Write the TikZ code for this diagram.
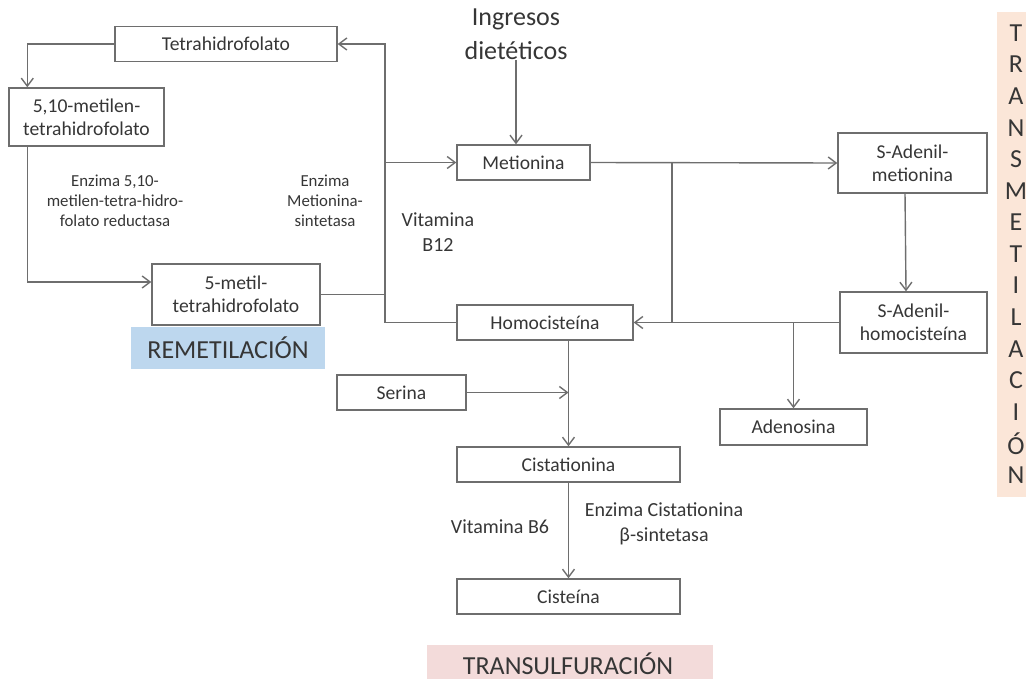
\documentclass[tikz,border=0pt]{standalone}
\usepackage{fontspec}
\setmainfont{Carlito}
\usepackage{tikz}
\usetikzlibrary{arrows.meta}
\definecolor{linea}{HTML}{6E6E6E}
\definecolor{texto}{HTML}{363636}
\definecolor{azulremet}{HTML}{BDD7EE}
\definecolor{rosatrans}{HTML}{F3DBDA}
\definecolor{durazno}{HTML}{FBE6D8}

\begin{document}
\begin{tikzpicture}[x=0.5pt, y=-0.5pt]
\tikzstyle{caja}=[rectangle, draw=linea, line width=0.7pt, inner sep=0pt, align=center, text=texto, font=\fontsize{9.8}{11.6}\selectfont]
\tikzstyle{etiqueta}=[inner sep=0pt, align=center, text=texto, font=\fontsize{10}{12.5}\selectfont]
\tikzstyle{enzima}=[inner sep=0pt, align=center, text=texto, font=\fontsize{8.4}{10}\selectfont]
\tikzstyle{titulo}=[inner sep=0pt, text=texto, font=\fontsize{13}{15}\selectfont]
\tikzstyle{flecha}=[draw=linea, line width=0.7pt, -{Straight Barb[length=4pt, width=6pt]}]
\tikzstyle{linea}=[draw=linea, line width=0.7pt]
\useasboundingbox (0,0) rectangle (1026,679);

% fondos de las rutas
\fill[azulremet] (131,327) rectangle (325,369);
\fill[rosatrans] (427,645) rectangle (713,679);
\fill[durazno] (997,12) rectangle (1026,497);

\node[caja, minimum width=111pt, minimum height=17.5pt] (THF) at (226,44) {Tetrahidrofolato};
\node[caja, minimum width=77.5pt, minimum height=29pt] (MTHF) at (86.5,117) {5,10-metilen-\\tetrahidrofolato};
\node[caja, minimum width=84pt, minimum height=30.5pt] (metil) at (236,294.5) {5-metil-\\tetrahidrofolato};
\node[caja, minimum width=66.5pt, minimum height=17.5pt] (met) at (523.5,162.5) {Metionina};
\node[caja, minimum width=74.5pt, minimum height=30pt] (sam) at (912.5,163) {S-Adenil-\\metionina};
\node[caja, minimum width=73.5pt, minimum height=30.5pt] (sah) at (913.5,322.5) {S-Adenil-\\homocisteína};
\node[caja, minimum width=88pt, minimum height=17.5pt] (hcy) at (545,322.5) {Homocisteína};
\node[caja, minimum width=64.5pt, minimum height=17.5pt] (ser) at (401.5,392.5) {Serina};
\node[caja, minimum width=111.5pt, minimum height=17.5pt] (cis) at (568.5,464.5) {Cistationina};
\node[caja, minimum width=111.5pt, minimum height=17.5pt] (cys) at (568.5,596.5) {Cisteína};
\node[caja, minimum width=73.5pt, minimum height=18pt] (ado) at (793.5,427) {Adenosina};

\node[titulo, align=center, font=\fontsize{13}{17}\selectfont] (ingresos) at (516,34) {Ingresos\\dietéticos};
\node[enzima] (enzreduc) at (115,201) {Enzima 5,10-\\metilen-tetra-hidro-\\folato reductasa};
\node[enzima] (enzsint) at (325,201) {Enzima\\Metionina-\\sintetasa};
\node[etiqueta] (vitb12) at (438,232) {Vitamina\\B12};
\node[etiqueta] (vitb6) at (500,527) {Vitamina B6};
\node[etiqueta] (enzcbs) at (664,524) {Enzima Cistationina\\β-sintetasa};
\node[titulo] (remet) at (228,348) {REMETILACIÓN};
\node[titulo] (transulf) at (568,664) {TRANSULFURACIÓN};
\foreach \letra [count=\i from 0] in {T,R,A,N,S,M,E,T,I,L,A,C,I,Ó,N}
  \node[titulo] (tm\i) at (1016,{33+31.57*\i}) {\letra};

% ciclo del folato
\coordinate (esq) at (385,44);
\draw[flecha] (THF.west) -| ([xshift=9.5pt]MTHF.north west);
\draw[flecha] ([xshift=9.5pt]MTHF.south west) |- ([yshift=6.25pt]metil.west);
\draw[flecha] (hcy.west) -| (esq) -- (THF.east);
\draw[flecha] (esq |- met.west) -- (met.west);
\draw[linea] (metil.east) -- (metil.east -| esq);

% ciclo de la metionina
\coordinate (cruce) at (672,322.5);
\draw[flecha] (ingresos.south) -- (ingresos.south |- met.north);
\draw[flecha] (met.east) -- (sam.west);
\draw[linea] (met.east -| cruce) -- (cruce);
\draw[flecha] ([xshift=-3.75pt]sam.south) -- ([xshift=-3.75pt]sah.north);
\draw[flecha] (sah.west) -- (hcy.east);
\draw[flecha] (sah.west -| ado.north) -- (ado.north);

% transulfuracion
\draw[flecha] (cis.north |- hcy.south) -- (cis.north);
\draw[flecha] (ser.east) -- (ser.east -| cis.north);
\draw[flecha] (cis.south) -- (cys.north);
\end{tikzpicture}
\end{document}
